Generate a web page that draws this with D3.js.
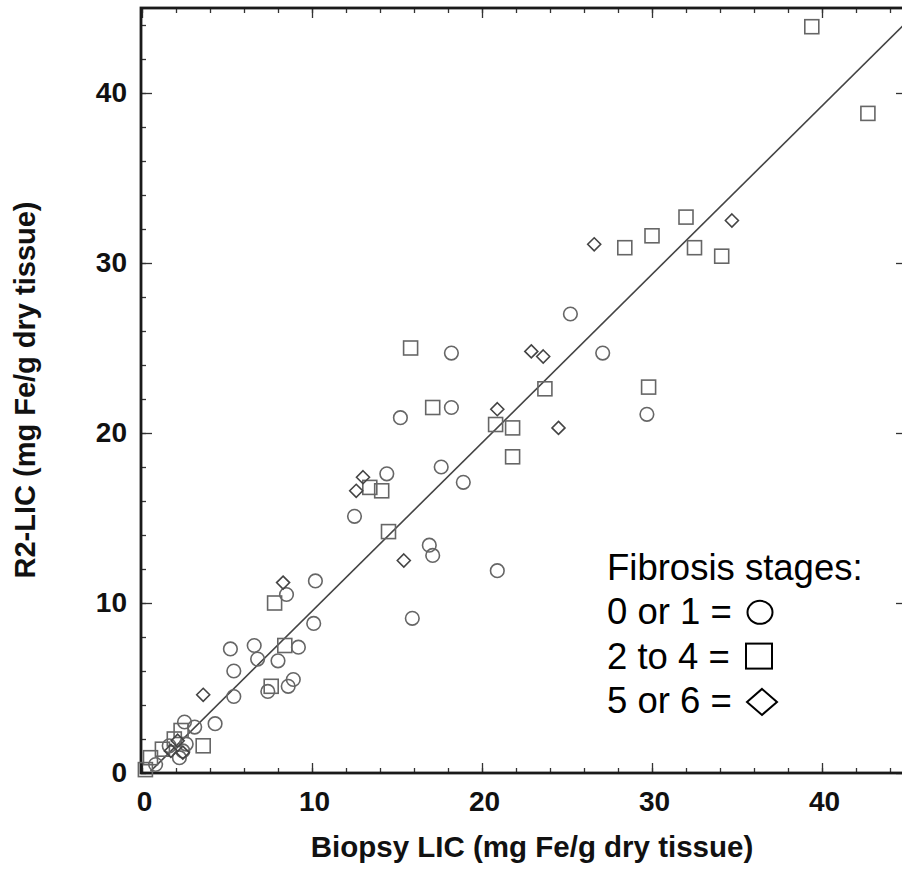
<!DOCTYPE html>
<html>
<head>
<meta charset="utf-8">
<script src="https://cdn.jsdelivr.net/npm/d3@7"></script>
<style>
  html, body { margin: 0; padding: 0; background: #fff; }
  svg { display: block; }
</style>
</head>
<body>
<svg id="chart"></svg>
<script>
const WIDTH = 902;
const HEIGHT = 875;

// biopsy LIC vs R2-LIC, split by fibrosis stage
const stage01 = [
    [25.2, 27.0], [18.2, 24.7], [27.1, 24.7], [29.7, 21.1], [15.2, 20.9], [18.2, 21.5],
    [17.6, 18.0], [18.9, 17.1], [14.4, 17.6], [12.5, 15.1], [16.9, 13.4], [17.1, 12.8],
    [20.9, 11.9], [15.9, 9.1], [10.2, 11.3], [10.1, 8.8], [8.5, 10.5], [9.2, 7.4],
    [6.6, 7.5], [5.2, 7.3], [6.8, 6.7], [8.0, 6.6], [5.4, 6.0], [8.9, 5.5],
    [8.6, 5.1], [7.4, 4.8], [5.4, 4.5], [4.3, 2.9], [3.1, 2.7], [2.5, 3.0],
    [2.6, 1.7], [2.2, 0.9], [1.6, 1.6], [2.4, 1.3], [0.8, 0.5]
];
const stage24 = [
    [39.4, 43.9], [42.7, 38.8], [28.4, 30.9], [30.0, 31.6], [32.0, 32.7], [32.5, 30.9],
    [34.1, 30.4], [15.8, 25.0], [23.7, 22.6], [29.8, 22.7], [17.1, 21.5], [20.8, 20.5],
    [21.8, 20.3], [21.8, 18.6], [13.4, 16.8], [14.1, 16.6], [14.5, 14.2], [7.8, 10.0],
    [8.4, 7.5], [7.6, 5.1], [3.6, 1.6], [2.3, 2.5], [1.9, 2.0], [1.2, 1.4],
    [0.5, 0.9], [0.2, 0.2]
];
const stage56 = [
    [26.6, 31.1], [34.7, 32.5], [22.9, 24.8], [23.6, 24.5], [20.9, 21.4], [24.5, 20.3],
    [13.0, 17.4], [12.6, 16.6], [15.4, 12.5], [8.3, 11.2], [3.6, 4.6], [2.1, 1.9],
    [2.4, 1.2], [1.7, 1.3]
];

// fitted line end points
const fitLine = [[0.5, 0.1], [45, 44.2]];

const majorTicks = [0, 10, 20, 30, 40];
const minorTicks = d3.range(0, 46, 2);

const legendLines = ['Fibrosis stages:', '0 or 1 = ', '2 to 4 = ', '5 or 6 = '];
const legendShapes = [null, 'circle', 'square', 'diamond'];

const xTitle = 'Biopsy LIC (mg Fe/g dry tissue)';
const yTitle = 'R2-LIC (mg Fe/g dry tissue)';

const svg = d3.select('#chart')
    .attr('width', WIDTH)
    .attr('height', HEIGHT);

const x = d3.scaleLinear().domain([0, 45]).range([142, 907]);
const y = d3.scaleLinear().domain([0, 45]).range([773, 8]);

const AXIS_FONT = '"Liberation Sans", Arial, sans-serif';

// inward ticks on all four sides
function tickAxis(axisFn, scale, values, size, translate) {
    const g = svg.append('g')
        .attr('transform', translate)
        .call(axisFn(scale).tickValues(values).tickSize(size).tickFormat(''));
    g.select('.domain').remove();
    g.selectAll('line').attr('stroke', '#333').attr('stroke-width', 1.3);
    return g;
}

tickAxis(d3.axisBottom, x, minorTicks, -5, `translate(0,${y(0)})`);
tickAxis(d3.axisBottom, x, majorTicks, -10, `translate(0,${y(0)})`);
tickAxis(d3.axisTop, x, minorTicks, -5, `translate(0,${y(45)})`);
tickAxis(d3.axisTop, x, majorTicks, -10, `translate(0,${y(45)})`);
tickAxis(d3.axisLeft, y, minorTicks, -5, `translate(141,0)`);
tickAxis(d3.axisLeft, y, majorTicks, -11, `translate(141,0)`);
tickAxis(d3.axisRight, y, minorTicks, -5, `translate(907,0)`);
tickAxis(d3.axisRight, y, majorTicks, -11, `translate(907,0)`);

// tick labels
const xLabels = svg.append('g')
    .attr('transform', `translate(2,${y(0)})`)
    .call(d3.axisBottom(x).tickValues(majorTicks).tickSize(0).tickPadding(18));
xLabels.select('.domain').remove();
xLabels.selectAll('text')
    .style('font-family', AXIS_FONT)
    .style('font-size', '28px')
    .style('font-weight', 'bold')
    .attr('fill', '#111');

const yLabels = svg.append('g')
    .attr('transform', 'translate(141,0)')
    .call(d3.axisLeft(y).tickValues(majorTicks).tickSize(0).tickPadding(14));
yLabels.select('.domain').remove();
yLabels.selectAll('text')
    .style('font-family', AXIS_FONT)
    .style('font-size', '28px')
    .style('font-weight', 'bold')
    .attr('fill', '#111');

// frame
svg.append('rect')
    .attr('x', 141)
    .attr('y', y(45))
    .attr('width', x(45) - 141)
    .attr('height', y(0) - y(45))
    .attr('fill', 'none')
    .attr('stroke', '#1a1a1a')
    .attr('stroke-width', 2.8);

// regression line
svg.append('line')
    .attr('x1', x(fitLine[0][0]))
    .attr('y1', y(fitLine[0][1]))
    .attr('x2', x(fitLine[1][0]))
    .attr('y2', y(fitLine[1][1]))
    .attr('stroke', '#444')
    .attr('stroke-width', 1.6);

const pts = svg.append('g')
    .attr('fill', 'none')
    .attr('stroke-width', 1.6);

pts.selectAll('.circ')
    .data(stage01)
    .join('circle')
    .attr('class', 'circ')
    .attr('cx', d => x(d[0]))
    .attr('cy', d => y(d[1]))
    .attr('r', 6.8)
    .attr('stroke', '#666');

pts.selectAll('.sq')
    .data(stage24)
    .join('rect')
    .attr('class', 'sq')
    .attr('x', d => x(d[0]) - 7)
    .attr('y', d => y(d[1]) - 7)
    .attr('width', 14)
    .attr('height', 14)
    .attr('stroke', '#666');

pts.selectAll('.dia')
    .data(stage56)
    .join('path')
    .attr('class', 'dia')
    .attr('d', d => {
        const cx = x(d[0]), cy = y(d[1]);
        return `M${cx},${cy - 6.5}L${cx + 6.5},${cy}L${cx},${cy + 6.5}L${cx - 6.5},${cy}Z`;
    })
    .attr('stroke', '#444');

// axis titles
svg.append('text')
    .attr('x', 532)
    .attr('y', 857)
    .attr('text-anchor', 'middle')
    .style('font-family', AXIS_FONT)
    .style('font-size', '29.5px')
    .style('font-weight', 'bold')
    .attr('fill', '#111')
    .text(xTitle);

svg.append('text')
    .attr('transform', 'translate(35,390) rotate(-90)')
    .attr('text-anchor', 'middle')
    .style('font-family', AXIS_FONT)
    .style('font-size', '29px')
    .style('font-weight', 'bold')
    .attr('fill', '#111')
    .text(yTitle);

// legend
const legend = svg.append('g')
    .style('font-family', AXIS_FONT)
    .style('font-size', '36.5px');

legendLines.forEach((t, i) => {
    const ty = 580 + i * 44.3;
    legend.append('text')
        .attr('x', 607)
        .attr('y', ty)
        .attr('fill', '#000')
        .text(t);
    const shape = legendShapes[i];
    if (shape === 'circle') {
        legend.append('ellipse')
            .attr('cx', 760).attr('cy', ty - 12)
            .attr('rx', 12.5).attr('ry', 11.5)
            .attr('fill', 'none').attr('stroke', '#000').attr('stroke-width', 2);
    } else if (shape === 'square') {
        legend.append('rect')
            .attr('x', 746).attr('y', ty - 25)
            .attr('width', 26).attr('height', 25)
            .attr('fill', 'none').attr('stroke', '#000').attr('stroke-width', 2);
    } else if (shape === 'diamond') {
        const cx = 762, cy = ty - 11;
        legend.append('path')
            .attr('d', `M${cx},${cy - 13}L${cx + 15},${cy}L${cx},${cy + 13}L${cx - 15},${cy}Z`)
            .attr('fill', 'none').attr('stroke', '#000').attr('stroke-width', 2);
    }
});
</script>
</body>
</html>
